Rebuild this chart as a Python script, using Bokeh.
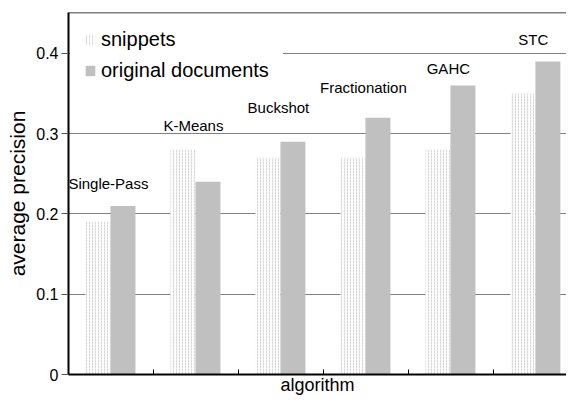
from bokeh.plotting import figure
from bokeh.models import (Range1d, FixedTicker, CustomJSTickFormatter, Span,
                          Legend, LegendItem, ColumnDataSource)
from bokeh.core.properties import value
from bokeh.embed import file_html
from bokeh.resources import INLINE

algorithms = ["Single-Pass", "K-Means", "Buckshot", "Fractionation", "GAHC", "STC"]
snippets = [0.19, 0.28, 0.27, 0.27, 0.28, 0.35]
original_documents = [0.21, 0.24, 0.29, 0.32, 0.36, 0.39]
label_heights = [0.238, 0.31, 0.333, 0.357, 0.381, 0.417]
y_ticks = [0, 0.1, 0.2, 0.3, 0.4]

FONT = "Liberation Sans"
n = len(algorithms)
idx = list(range(n))

p = figure(width=566, height=397, output_backend="svg", toolbar_location=None,
           x_range=Range1d(0, 5.86), y_range=Range1d(0, 0.451),
           min_border_left=68, min_border_right=0, min_border_top=12,
           min_border_bottom=20)
p.outline_line_color = None
p.background_fill_color = "white"
p.border_fill_color = "white"

bw = 0.294
src = ColumnDataSource(dict(
    xs=[i + 0.2 + bw / 2 for i in idx],
    xo=[i + 0.2 + bw * 1.5 for i in idx],
    s=snippets, o=original_documents,
    lx=[i + 0.47 for i in idx], ly=label_heights, name=algorithms))

r_s = p.vbar(x="xs", top="s", width=bw, source=src, fill_color="#fcfcfc",
             line_color=None, hatch_pattern="vertical_dash",
             hatch_color="#d8d8d8", hatch_scale=3, hatch_weight=1)
r_o = p.vbar(x="xo", top="o", width=bw, source=src, fill_color="#c0c0c0",
             line_color=None)

p.text(x="lx", y="ly", text="name", source=src, text_align="center",
       text_baseline="middle", text_font=value(FONT), text_font_size="15px",
       text_color="black")

# top border line
p.add_layout(Span(location=0.451, dimension="width", line_color="black",
                  line_width=1.5))

# axes
p.xaxis.ticker = FixedTicker(ticks=[1, 2, 3, 4, 5])
p.xaxis.formatter = CustomJSTickFormatter(code="return '';")
p.xaxis.major_tick_in = 5
p.xaxis.major_tick_out = 0
p.xaxis.minor_tick_line_color = None
p.xaxis.major_label_standoff = 0
p.xaxis.axis_line_width = 2
p.xaxis.axis_line_color = "black"
p.xaxis.major_tick_line_color = "black"
p.xaxis.axis_label = "algorithm"
p.xaxis.axis_label_text_font = FONT
p.xaxis.axis_label_text_font_style = "normal"
p.xaxis.axis_label_text_font_size = "18px"
p.xaxis.axis_label_text_color = "black"
p.xaxis.axis_label_standoff = 0

p.yaxis.ticker = FixedTicker(ticks=y_ticks)
p.yaxis.formatter = CustomJSTickFormatter(
    code="return tick == 0 ? '0' : tick.toFixed(1);")
p.yaxis.major_tick_in = 0
p.yaxis.major_tick_out = 7
p.yaxis.minor_tick_line_color = None
p.yaxis.axis_line_width = 2
p.yaxis.axis_line_color = "black"
p.yaxis.major_tick_line_color = "#555555"
p.yaxis.major_label_text_font = FONT
p.yaxis.major_label_text_font_size = "16px"
p.yaxis.major_label_text_color = "black"
p.yaxis.major_label_standoff = 3
p.yaxis.axis_label = "average precision"
p.yaxis.axis_label_text_font = FONT
p.yaxis.axis_label_text_font_style = "normal"
p.yaxis.axis_label_text_font_size = "21px"
p.yaxis.axis_label_text_color = "black"
p.yaxis.axis_label_standoff = 4

p.xgrid.grid_line_color = None
p.ygrid.ticker = FixedTicker(ticks=y_ticks[1:])
p.ygrid.grid_line_color = "#808080"
p.ygrid.grid_line_width = 1

legend = Legend(items=[LegendItem(label="snippets", renderers=[r_s]),
                       LegendItem(label="original documents", renderers=[r_o])],
                location="top_left")
legend.margin = 2
legend.padding = 13
legend.spacing = 8
legend.glyph_width = 12
legend.glyph_height = 13
legend.label_standoff = 5
legend.label_height = 20
legend.label_text_font = FONT
legend.label_text_font_size = "20px"
legend.label_text_color = "black"
legend.border_line_color = "white"
legend.border_line_width = 1
legend.background_fill_color = "white"
legend.background_fill_alpha = 1
p.add_layout(legend)

open("out.html", "w").write(file_html(p, INLINE))
